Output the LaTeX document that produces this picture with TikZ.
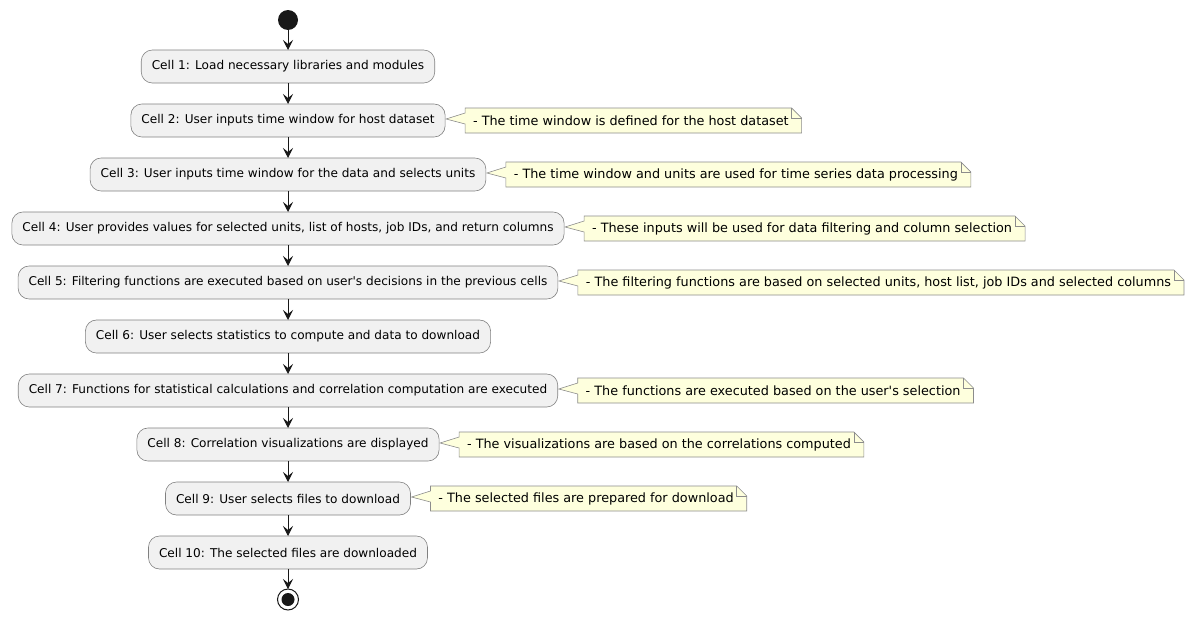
\documentclass[tikz,border=0pt]{standalone}
\usepackage{fontspec}
\setmainfont{DejaVu Sans}
\usetikzlibrary{positioning, arrows.meta, backgrounds}
\definecolor{actfill}{HTML}{F1F1F1}
\definecolor{notefill}{HTML}{FEFFDD}
\definecolor{lineblack}{HTML}{181818}

\begin{document}
\begin{tikzpicture}[node distance=21pt,
    cell/.style={draw=black!50, line width=0.6pt, fill=actfill, rounded corners=11pt, outer sep=0pt,
      minimum height=33pt, inner xsep=10.5pt, inner ysep=0pt, font=\fontsize{12.1pt}{14pt}\selectfont},
    note/.style={inner xsep=8pt, inner ysep=0pt, outer sep=0pt, minimum height=25pt, font=\fontsize{12.8pt}{15pt}\selectfont},
    noteline/.style={draw=black!45, fill=notefill, line width=0.6pt},
    flow/.style={draw=lineblack, line width=1pt, -{Stealth[length=10pt,width=10pt,inset=4pt]}}]
        \useasboundingbox (0,0) rectangle (1193pt,-621pt);

        \node[circle, fill=lineblack, minimum size=20pt, inner sep=0pt, outer sep=0pt] (start) at (288pt,-20pt) {};
        \node[cell] (c1) [below=20pt of start] {Cell 1: Load necessary libraries and modules};
        \node[cell] (c2) [below=of c1] {Cell 2: User inputs time window for host dataset};
        \node[cell] (c3) [below=of c2] {Cell 3: User inputs time window for the data and selects units};
        \node[cell] (c4) [below=of c3] {Cell 4: User provides values for selected units, list of hosts, job IDs, and return columns};
        \node[cell] (c5) [below=of c4] {Cell 5: Filtering functions are executed based on user\textquotesingle s decisions in the previous cells};
        \node[cell] (c6) [below=of c5] {Cell 6: User selects statistics to compute and data to download};
        \node[cell] (c7) [below=of c6] {Cell 7: Functions for statistical calculations and correlation computation are executed};
        \node[cell] (c8) [below=of c7] {Cell 8: Correlation visualizations are displayed};
        \node[cell] (c9) [below=of c8] {Cell 9: User selects files to download};
        \node[cell] (c10) [below=of c9] {Cell 10: The selected files are downloaded};
        \node[circle, draw=lineblack, line width=1pt, fill=white, minimum size=21pt, inner sep=0pt, outer sep=0pt] (stop) [below=20pt of c10] {};
        \fill[lineblack] (stop.center) circle (6.5pt);

        \foreach \a/\b in {start/c1, c1/c2, c2/c3, c3/c4, c4/c5, c5/c6, c6/c7, c7/c8, c8/c9, c9/c10, c10/stop}
            \draw[flow] (\a) -- (\b);

        % notes beside the cells
        \foreach \c/\txt in {
            c2/{- The time window is defined for the host dataset},
            c3/{- The time window and units are used for time series data processing},
            c4/{- These inputs will be used for data filtering and column selection},
            c5/{- The filtering functions are based on selected units, host list, job IDs and selected columns},
            c7/{- The functions are executed based on the user\textquotesingle s selection},
            c8/{- The visualizations are based on the correlations computed},
            c9/{- The selected files are prepared for download}} {
            \node[note, right=20pt of \c] (n\c) {\txt};
            \begin{pgfonlayer}{background}
                \draw[noteline] (n\c.north west) -- ([xshift=-5pt]n\c.north east)
                    -- ([xshift=5pt, yshift=-10pt]n\c.north east) -- ([xshift=5pt]n\c.south east)
                    -- (n\c.south west) -- ([yshift=-3.5pt]n\c.west)
                    -- ([xshift=1pt, yshift=1.5pt]\c.east) -- ([yshift=7.5pt]n\c.west) -- cycle;
                \draw[noteline, fill=none] ([xshift=-5pt]n\c.north east) |- ([xshift=5pt, yshift=-10pt]n\c.north east);
            \end{pgfonlayer}
        }
    \end{tikzpicture}
\end{document}
